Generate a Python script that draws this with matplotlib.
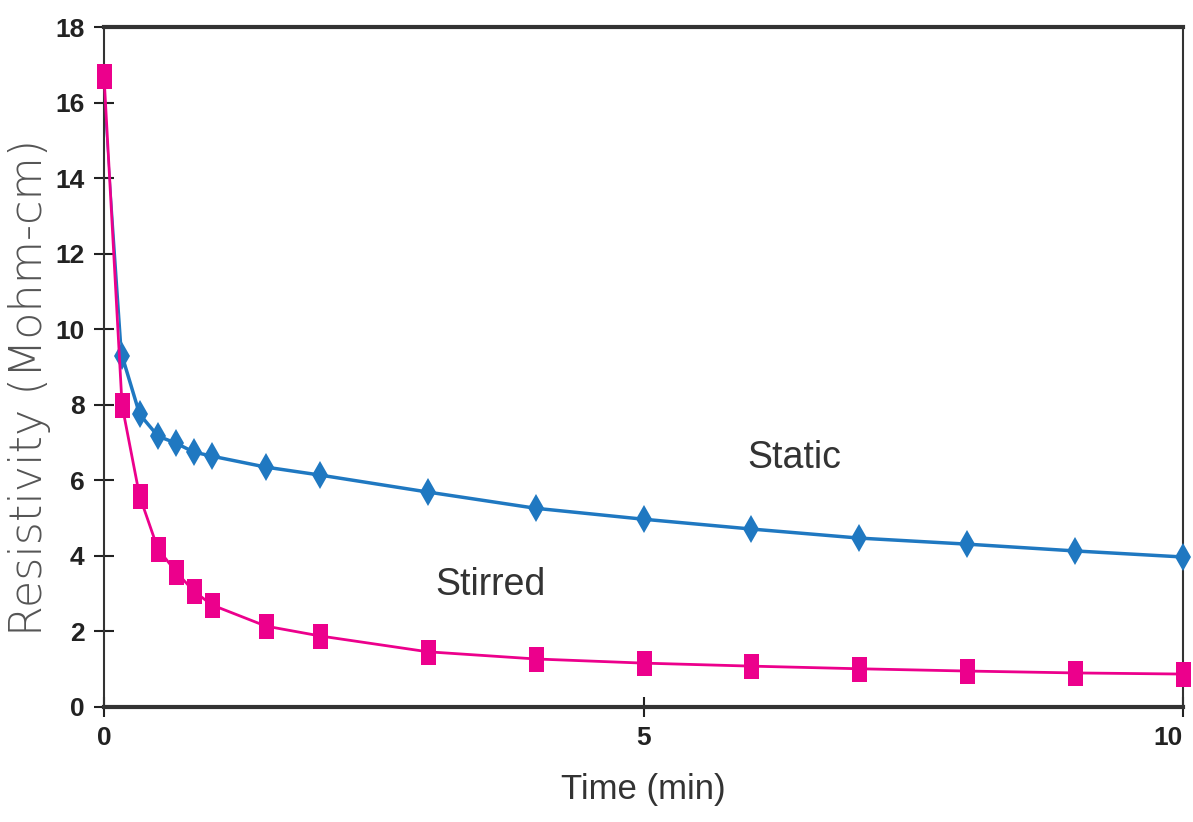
import matplotlib.pyplot as plt
import numpy as np

plt.switch_backend("Agg")

# Liberation Sans é mais estreita que DejaVu
plt.rcParams["font.family"] = ["Liberation Sans", "DejaVu Sans"]

# Dados
time_min = [0, 0.167, 0.33, 0.5, 0.67, 0.83, 1.0, 1.5, 2.0, 3.0, 4.0, 5.0, 6.0, 7.0, 8.0, 9.0, 10.0]
static = [16.2, 9.3, 7.75, 7.17, 6.98, 6.75, 6.64, 6.35, 6.14, 5.69, 5.26, 4.97, 4.71, 4.47, 4.31, 4.13, 3.97]
stirred = [16.7, 7.99, 5.58, 4.18, 3.57, 3.07, 2.70, 2.14, 1.88, 1.46, 1.27, 1.16, 1.08, 1.01, 0.95, 0.90, 0.87]

blue = "#1f78c1"
pink = "#ec008c"

# marcador quadrado alto e estreito
tall_square = [(-0.6, -1), (0.6, -1), (0.6, 1), (-0.6, 1), (-0.6, -1)]

fig = plt.figure(figsize=(11.93, 8.22), dpi=100)
ax = fig.add_axes([0.0872, 0.140, 0.9044, 0.827])

ax.plot(time_min[1:], static[1:], color=blue, linewidth=2.5, marker="d",
        markersize=14, markeredgewidth=0, zorder=3, clip_on=False)
ax.plot(time_min[:2], static[:2], color=blue, linewidth=1.5, zorder=2)
ax.plot(time_min, stirred, color=pink, linewidth=2, marker=tall_square,
        markersize=18, markeredgewidth=0, zorder=4, clip_on=False)

ax.set_xlim(0, 10)
ax.set_ylim(0, 18)
ax.set_xticks([0, 5, 10])
ax.set_yticks(np.arange(0, 19, 2))
ax.tick_params(direction="inout", length=14, width=1.5, colors="#222222",
               labelsize=19, pad=7)
for lbl in ax.get_yticklabels() + ax.get_xticklabels():
    lbl.set_fontweight("bold")
ax.get_xticklabels()[-1].set_horizontalalignment("right")

for s in ax.spines.values():
    s.set_linewidth(1.5)
    s.set_color("#333333")
ax.spines["bottom"].set_linewidth(3)
ax.spines["top"].set_linewidth(3)

ax.text(6.4, 6.59, "Static", fontsize=27, color="#333333", ha="center", va="center")
ax.text(3.58, 3.23, "Stirred", fontsize=27, color="#333333", ha="center", va="center")

ax.set_xlabel("Time (min)", fontsize=25, color="#333333", labelpad=16)
fig.text(30 / 1193, 1 - 387 / 822, "Resistivity (Mohm-cm)", fontsize=32,
         color="#555555", family="DejaVu Sans", fontweight="light",
         rotation=90, ha="center", va="center")

fig.savefig("out.png", dpi=100)
